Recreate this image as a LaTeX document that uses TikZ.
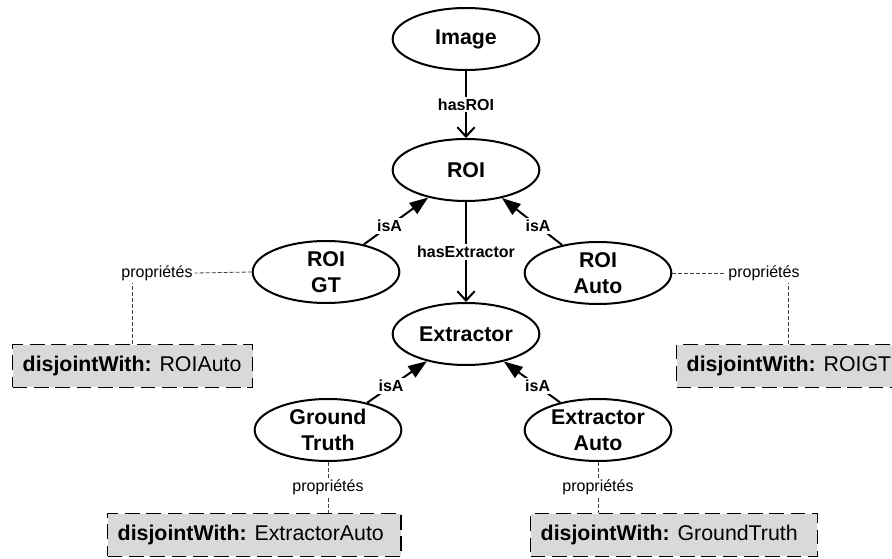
\documentclass[tikz,border=0pt]{standalone}
\usepackage{fontspec}
\setmainfont{Liberation Sans}
\usepackage{tikz}
\usetikzlibrary{shapes}
\usetikzlibrary{arrows.meta}

\begin{document}
\begin{tikzpicture}[x=0.75pt,y=-0.75pt,
        concept/.style={ellipse,draw,line width=1.5pt,fill=white,minimum width=110pt,minimum height=46.5pt,inner sep=0pt,align=center,font=\fontsize{16}{19.5}\selectfont\bfseries},
        propbox/.style={draw,dash pattern=on 11pt off 5pt,line width=1.1pt,fill=black!15,minimum height=32pt,inner xsep=7.5pt,inner ysep=0pt,font=\fontsize{16}{19}\selectfont},
        rel/.style={fill=white,inner sep=1.5pt,font=\fontsize{12}{14}\selectfont\bfseries},
        proplabel/.style={fill=white,inner sep=1.5pt,font=\fontsize{12}{14}\selectfont},
        propline/.style={draw=black!75,line width=0.6pt,dash pattern=on 3pt off 1.5pt},
        hasarrow/.style={line width=1.5pt,-{Straight Barb[length=7pt,width=13pt]}},
        isaarrow/.style={line width=1.5pt,-{Triangle[length=14pt,width=10pt]}}]
        \useasboundingbox (0,0) rectangle (892,559);
        \clip (0,0) rectangle (892,559);

        \node[concept] (image) at (466,39) {Image};
        \node[concept] (roi) at (466,170) {ROI};
        \node[concept] (roigt) at (326,272) {ROI\\GT};
        \node[concept] (roiauto) at (598,273) {ROI\\Auto};
        \node[concept] (extractor) at (466,334) {Extractor};
        \node[concept] (gt) at (328,430) {Ground\\Truth};
        \node[concept] (extauto) at (598,430) {Extractor\\Auto};

        \draw[hasarrow] (image) -- node[rel] (hasroi) {hasROI} (roi);
        \draw[hasarrow] (roi) -- node[rel] (hasext) {hasExtractor} (extractor);
        \draw[isaarrow] (roigt) -- node[rel,pos=0.4] (isagt) {isA} (roi);
        \draw[isaarrow] (roiauto) -- node[rel,pos=0.4] (isaauto) {isA} (roi);
        \draw[isaarrow] (gt) -- node[rel,pos=0.4] (isaground) {isA} (extractor);
        \draw[isaarrow] (extauto) -- node[rel,pos=0.4] (isaextauto) {isA} (extractor);

        % properties
        \node[propbox,anchor=west] (roigtprop) at (12,366) {\makebox[165pt][l]{\textbf{disjointWith:} ROIAuto}};
        \node[propbox,anchor=west] (roiautoprop) at (676,366) {\makebox[153pt][l]{\textbf{disjointWith:} ROIGT}};
        \node[propbox,anchor=west] (gtprop) at (107,535) {\makebox[205pt][l]{\textbf{disjointWith:} ExtractorAuto}};
        \node[propbox,anchor=west] (extautoprop) at (530,535) {\makebox[200pt][l]{\textbf{disjointWith:} GroundTruth}};

        \node[proplabel] (roigtlabel) at (157,273) {propriétés};
        \node[proplabel] (roiautolabel) at (764,273) {propriétés};
        \draw[propline] (roigt.west) -- (roigtlabel.east);
        \draw[propline] (roigtprop.north) -- (roigtprop.north |- roigtlabel.south);
        \draw[propline] (roiauto.east) -- (roiautolabel.west);
        \draw[propline] (roiautoprop.north) -- (roiautoprop.north |- roiautolabel.south);
        \draw[propline] (gt.south) -- (gt.south |- gtprop.north) node[proplabel,midway] (gtlabel) {propriétés};
        \draw[propline] (extauto.south) -- (extauto.south |- extautoprop.north) node[proplabel,midway] (extautolabel) {propriétés};
    \end{tikzpicture}
\end{document}
